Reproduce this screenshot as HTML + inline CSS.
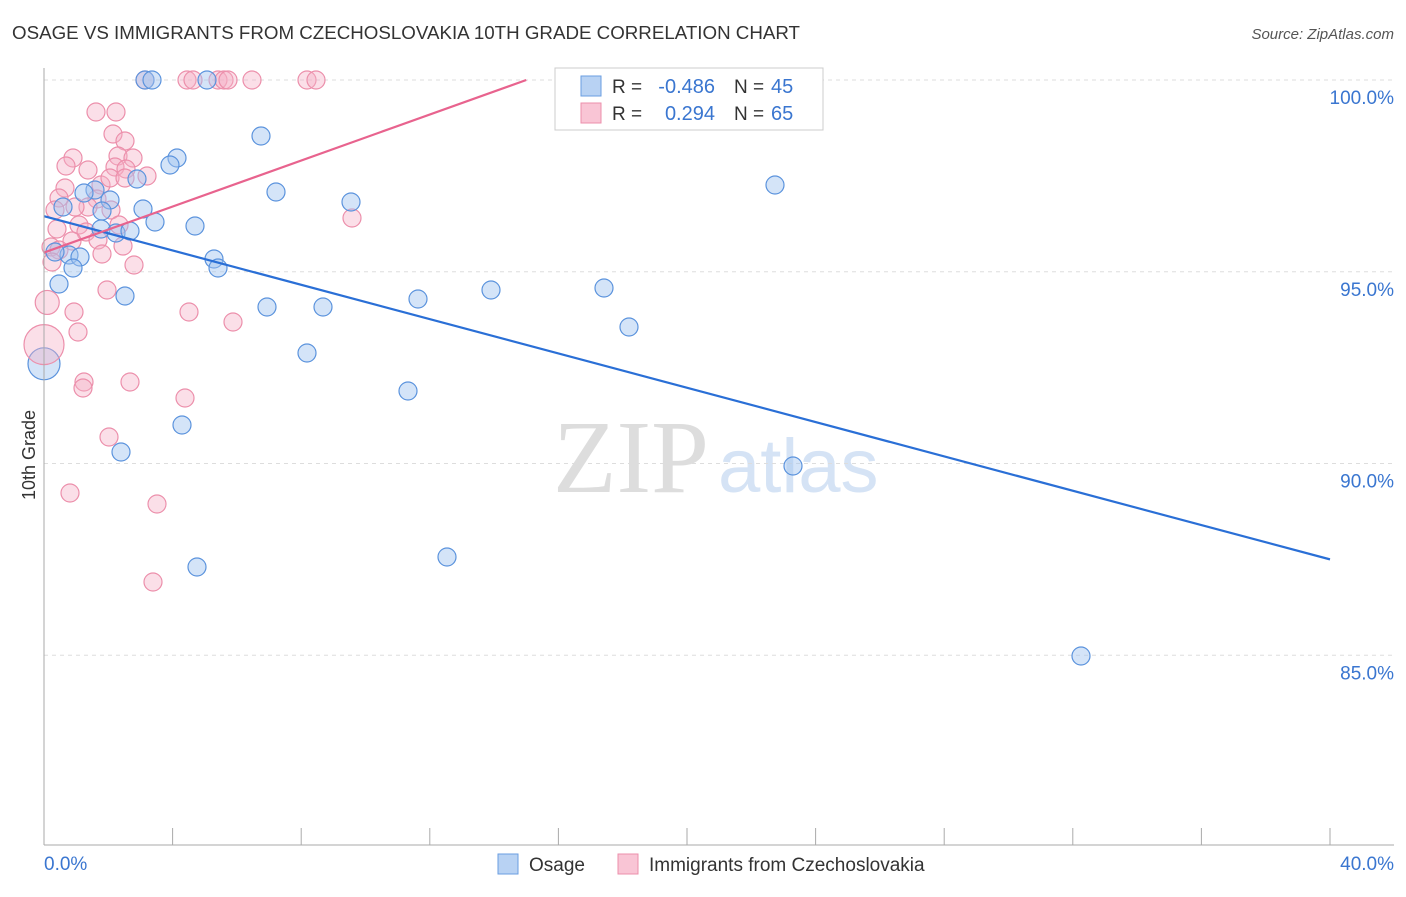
<!DOCTYPE html>
<html><head><meta charset="utf-8"><style>
body{margin:0;background:#fff;font-family:"Liberation Sans",sans-serif;}
</style></head><body>
<svg width="1406" height="892" xmlns="http://www.w3.org/2000/svg" id="svg">
<text x="12" y="39" font-size="18" fill="#333" textLength="788" lengthAdjust="spacingAndGlyphs">OSAGE VS IMMIGRANTS FROM CZECHOSLOVAKIA 10TH GRADE CORRELATION CHART</text>
<text x="1394" y="39" font-size="15" fill="#555" text-anchor="end" font-style="italic">Source: ZipAtlas.com</text>
<text x="35" y="455" font-size="18" fill="#333" text-anchor="middle" transform="rotate(-90 35 455)">10th Grade</text>
<text x="553" y="492" font-size="104" fill="#ddd" font-family="Liberation Serif,serif">ZIP</text>
<text x="718" y="492" font-size="76" fill="#d5e3f5">atlas</text>
<g id="grid"></g><g id="pts"></g><g id="lines"></g>
<line x1="44" y1="68" x2="44" y2="845" stroke="#aaa"/>
<line x1="44" y1="845" x2="1394" y2="845" stroke="#aaa"/>
<text x="44" y="870" font-size="19" fill="#3a76d0">0.0%</text>
<text x="1394" y="870" font-size="19" fill="#3a76d0" text-anchor="end">40.0%</text>
<g>
<rect x="555" y="68" width="268" height="62" fill="#fff" stroke="#ccc"/>
<rect x="581" y="76" width="20" height="20" fill="#b8d2f3" stroke="#6a9ee0"/>
<rect x="581" y="103" width="20" height="20" fill="#f9c5d5" stroke="#ec8fab"/>
<text x="612" y="93" font-size="19" fill="#333">R =</text>
<text x="715" y="93" font-size="20" fill="#3a76d0" text-anchor="end">-0.486</text>
<text x="734" y="93" font-size="19" fill="#333">N =</text>
<text x="771" y="93" font-size="20" fill="#3a76d0">45</text>
<text x="612" y="120" font-size="19" fill="#333">R =</text>
<text x="715" y="120" font-size="20" fill="#3a76d0" text-anchor="end">0.294</text>
<text x="734" y="120" font-size="19" fill="#333">N =</text>
<text x="771" y="120" font-size="20" fill="#3a76d0">65</text>
</g>
<g>
<rect x="498" y="854" width="20" height="20" fill="#b8d2f3" stroke="#6a9ee0"/>
<text x="529" y="871" font-size="19" fill="#333">Osage</text>
<rect x="618" y="854" width="20" height="20" fill="#f9c5d5" stroke="#ec8fab"/>
<text x="649" y="871" font-size="19" fill="#333">Immigrants from Czechoslovakia</text>
</g>
</svg>
<script>
const yTicks=[100,95,90,85];
const yTickLabels=["100.0%","95.0%","90.0%","85.0%"];
const xTicks=[0,4,8,12,16,20,24,28,32,36,40];
const bluePx=[[145,80],[152,80],[207,80],[261,136],[177,158],[170,165],[137,179],[95,190],[84,193],[110,200],[143,209],[63,207],[102,211],[155,222],[195,226],[101,229],[116,233],[130,231],[276,192],[351,202],[775,185],[69,255],[80,257],[55,252],[214,259],[218,268],[73,268],[59,284],[125,296],[267,307],[323,307],[418,299],[491,290],[604,288],[629,327],[307,353],[408,391],[182,425],[121,452],[793,466],[447,557],[197,567],[1081,656]];
const pinkPx=[[145,80],[187,80],[193,80],[218,80],[224,80],[228,80],[252,80],[307,80],[316,80],[628,80],[96,112],[116,112],[113,134],[125,141],[118,156],[133,158],[73,158],[66,166],[88,170],[115,167],[126,169],[101,185],[65,188],[110,178],[147,176],[125,178],[59,198],[97,199],[88,207],[75,207],[111,210],[55,210],[57,229],[79,225],[119,225],[86,232],[98,240],[123,246],[72,241],[51,247],[59,250],[52,262],[102,254],[134,265],[107,290],[189,312],[74,312],[233,322],[78,332],[352,218],[84,382],[83,388],[130,382],[185,398],[109,437],[70,493],[157,504],[153,582]];
const blueX=bluePx.map(p=>(p[0]-44)/1286*40), blueY=bluePx.map(p=>100-(p[1]-80)/38.35);
const pinkX=pinkPx.map(p=>(p[0]-44)/1286*40), pinkY=pinkPx.map(p=>100-(p[1]-80)/38.35);
const bigX=[0,0,0.1], bigY=[92.6,93.1,94.2], bigR=[16,20,12], bigC=["b","p","p"];
const blueLine=[0,96.45,40,87.5], pinkLine=[0,95.5,15,100];
const sx=v=>44+v/40*1286, sy=v=>80+(100-v)*38.35;
const NS="http://www.w3.org/2000/svg";
function mk(t,a,parent){const e=document.createElementNS(NS,t);for(const k in a)e.setAttribute(k,a[k]);document.getElementById(parent).appendChild(e);return e;}
yTicks.forEach((v,i)=>{
 const l=mk('line',{x1:44,x2:1394,y1:sy(v),y2:sy(v),stroke:'#ddd','stroke-dasharray':'4,4'},'grid');
 
 
 const t=mk('text',{x:1394,y:sy(v)+24,'font-size':19,fill:'#3a76d0','text-anchor':'end'},'grid');
 t.textContent=yTickLabels[i];
 
 
});
xTicks.forEach(v=>{
 const l=mk('line',{x1:sx(v),x2:sx(v),y1:828,y2:845,stroke:'#aaa'},'grid');
 
 
});
function dot(x,y,r,c){
 const e=mk('circle',{cx:sx(x),cy:sy(y),r:r,fill:c=='b'?'rgba(160,195,240,0.45)':'rgba(246,175,198,0.4)',stroke:c=='b'?'#5b93dd':'#ec8fab','stroke-width':1.2},'pts');
 
 
}
pinkX.forEach((x,i)=>dot(x,pinkY[i],9,'p'));
blueX.forEach((x,i)=>dot(x,blueY[i],9,'b'));
bigX.forEach((x,i)=>dot(x,bigY[i],bigR[i],bigC[i]));
const bl=mk('line',{x1:sx(blueLine[0]),y1:sy(blueLine[1]),x2:sx(blueLine[2]),y2:sy(blueLine[3]),stroke:'#2a6fd6','stroke-width':2.2},'lines');


const pl=mk('line',{x1:sx(pinkLine[0]),y1:sy(pinkLine[1]),x2:sx(pinkLine[2]),y2:sy(pinkLine[3]),stroke:'#e8638e','stroke-width':2.2},'lines');


</script>
</body></html>
